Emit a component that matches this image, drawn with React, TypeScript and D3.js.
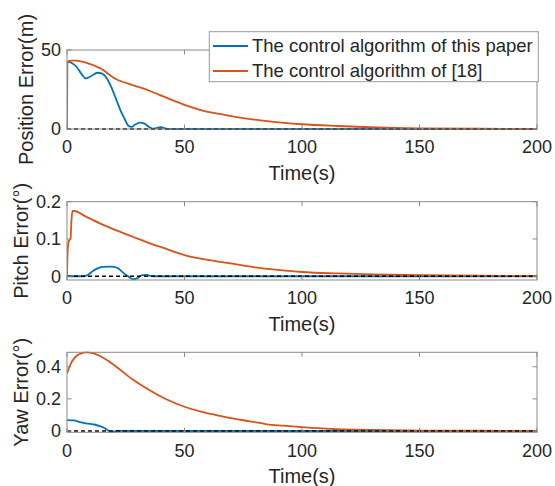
import React from "react";
import * as d3 from "d3";

// Time axis shared by the three panels
const timeDomain: [number, number] = [0, 200];
const timeTicks = [0, 50, 100, 150, 200];

// Position error (m)
const posTimeOurs = [0, 2, 4, 6, 8, 10, 13, 15, 17, 19, 21, 23, 24.5, 26, 27.5, 29, 31, 33, 35, 36.5, 38, 40, 42, 45, 60, 200];
const posOurs = [42.6, 41.8, 39.4, 35.2, 32, 33.2, 35.6, 35, 32, 26, 18.5, 11, 6.5, 2.2, 1.3, 2.8, 4, 3.4, 1.2, 0.2, 0.6, 1.2, 0.3, 0, 0, 0];
const posTimeRef = [0, 0.15, 2, 4, 8, 14, 21, 28, 35, 42, 50, 57, 65, 71, 80, 86, 100, 115, 129, 150, 175, 200];
const posRef = [0, 42.6, 43.3, 43.3, 42, 38.5, 31.5, 27.8, 24.2, 20, 15.3, 12, 9.5, 7.8, 5.9, 4.8, 3, 1.9, 1.1, 0.4, 0.15, 0.05];
const posTicks = [0, 50];

// Pitch error (deg)
const pitchTimeOurs = [0, 7, 9, 11, 13, 15, 18, 20, 22, 24, 26, 28, 30, 31.5, 33.3, 35, 37, 200];
const pitchOurs = [0, 0, 0.004, 0.014, 0.021, 0.025, 0.026, 0.025, 0.02, 0.009, 0, -0.008, -0.005, 0.002, 0.004, 0.002, 0, 0];
const pitchTimeRef = [0, 0.3, 0.8, 1.5, 1.9, 2.3, 3, 8, 14, 21, 28, 35, 42, 50, 60, 71, 80, 90, 100, 115, 130, 150, 175, 200];
const pitchRef = [0, 0.07, 0.095, 0.1, 0.15, 0.175, 0.175, 0.16, 0.142, 0.123, 0.106, 0.089, 0.074, 0.057, 0.044, 0.033, 0.024, 0.017, 0.0115, 0.0075, 0.005, 0.003, 0.0015, 0.001];
const pitchTicks = [0, 0.1, 0.2];

// Yaw error (deg)
const yawTimeOurs = [0, 3, 5.5, 8, 10, 12, 14, 15.5, 17, 18.2, 19.5, 21, 200];
const yawOurs = [0.068, 0.066, 0.055, 0.048, 0.044, 0.039, 0.031, 0.022, 0.008, -0.002, -0.005, 0, 0];
const yawTimeRef = [0, 2, 4, 6, 8, 11, 14, 17.5, 21, 28, 35, 42, 50, 57, 65, 71, 78, 85, 92, 100, 115, 130, 150, 175, 200];
const yawRef = [0.359, 0.43, 0.467, 0.483, 0.49, 0.485, 0.467, 0.437, 0.4, 0.32, 0.255, 0.199, 0.151, 0.12, 0.094, 0.077, 0.06, 0.042, 0.033, 0.024, 0.011, 0.0065, 0.003, 0.0015, 0.001];
const yawTicks = [0, 0.2, 0.4];

const legendLabels = ["The control algorithm of this paper", "The control algorithm of [18]"];
const seriesColors = ["#0072BD", "#D95319"];

const FONT = "'Liberation Sans', Arial, Helvetica, sans-serif";
const TEXT = "#262626";
const AXIS = "#8a8a8a";

const LEFT = 67;
const RIGHT = 537;

type PanelDef = {
  id: string;
  top: number;
  bottom: number;
  domain: [number, number];
  ticks: number[];
  yLabel: string;
  yLabelX: number;
  ours: [number[], number[]];
  ref: [number[], number[]];
};

const panels: PanelDef[] = [
  { id: "pos", top: 50, bottom: 129, domain: [0, 50], ticks: posTicks, yLabel: "Position Error(m)", yLabelX: 33, ours: [posTimeOurs, posOurs], ref: [posTimeRef, posRef] },
  { id: "pitch", top: 201.7, bottom: 280, domain: [-0.01, 0.2], ticks: pitchTicks, yLabel: "Pitch Error(°)", yLabelX: 28, ours: [pitchTimeOurs, pitchOurs], ref: [pitchTimeRef, pitchRef] },
  { id: "yaw", top: 352.3, bottom: 432.3, domain: [-0.008, 0.49], ticks: yawTicks, yLabel: "Yaw Error(°)", yLabelX: 28, ours: [yawTimeOurs, yawOurs], ref: [yawTimeRef, yawRef] },
];

function Panel({ p }: { p: PanelDef }) {
  const x = d3.scaleLinear().domain(timeDomain).range([LEFT, RIGHT]);
  const y = d3.scaleLinear().domain(p.domain).range([p.bottom, p.top]);
  const line = d3
    .line<[number, number]>()
    .x((d) => x(d[0]))
    .y((d) => y(d[1]))
    .curve(d3.curveMonotoneX);
  const zip = (ts: number[], vs: number[]) => ts.map((t, i) => [t, vs[i]] as [number, number]);
  const tickLen = 4.5;
  const fmt = (v: number) => String(v);
  return (
    <g>
      <defs>
        <clipPath id={`clip-${p.id}`}>
          <rect x={LEFT} y={p.top - 1} width={RIGHT - LEFT} height={p.bottom - p.top + 2} />
        </clipPath>
      </defs>
      <rect x={LEFT} y={p.top} width={RIGHT - LEFT} height={p.bottom - p.top} fill="#fff" />
      <g clipPath={`url(#clip-${p.id})`}>
        <path d={line(zip(p.ours[0], p.ours[1])) || ""} fill="none" stroke={seriesColors[0]} strokeWidth={1.8} />
        <path d={line(zip(p.ref[0], p.ref[1])) || ""} fill="none" stroke={seriesColors[1]} strokeWidth={1.8} />
        <line x1={x(0)} x2={x(200)} y1={y(0)} y2={y(0)} stroke="#000" strokeWidth={1.3} strokeDasharray="4,3" />
      </g>
      {/* box */}
      <rect x={LEFT} y={p.top} width={RIGHT - LEFT} height={p.bottom - p.top} fill="none" stroke={AXIS} strokeWidth={1} />
      {/* x ticks */}
      {timeTicks.map((t) => (
        <g key={`xt${t}`}>
          <line x1={x(t)} x2={x(t)} y1={p.bottom} y2={p.bottom - tickLen} stroke={AXIS} />
          <line x1={x(t)} x2={x(t)} y1={p.top} y2={p.top + tickLen} stroke={AXIS} />
          <text x={x(t)} y={p.bottom + 24.3} textAnchor="middle" fontSize={18} fill={TEXT} fontFamily={FONT}>
            {t}
          </text>
        </g>
      ))}
      {/* y ticks */}
      {p.ticks.map((v) => (
        <g key={`yt${v}`}>
          <line x1={LEFT} x2={LEFT + tickLen} y1={y(v)} y2={y(v)} stroke={AXIS} />
          <line x1={RIGHT} x2={RIGHT - tickLen} y1={y(v)} y2={y(v)} stroke={AXIS} />
          <text x={61} y={y(v) + 6.4} textAnchor="end" fontSize={18} fill={TEXT} fontFamily={FONT}>
            {fmt(v)}
          </text>
        </g>
      ))}
      <text x={(LEFT + RIGHT) / 2} y={p.bottom + 50.5} textAnchor="middle" fontSize={20} fill={TEXT} fontFamily={FONT}>
        Time(s)
      </text>
      <text
        transform={`translate(${p.yLabelX},${(p.top + p.bottom) / 2}) rotate(-90)`}
        textAnchor="middle"
        fontSize={20}
        fill={TEXT}
        fontFamily={FONT}
      >
        {p.yLabel}
      </text>
    </g>
  );
}

function Legend() {
  const lx = 209.3;
  const ly = 31.7;
  const rows = [46, 71];
  return (
    <g>
      <rect x={lx} y={ly} width={538.3 - lx} height={81.7 - ly} fill="#fff" stroke="#9a9a9a" strokeWidth={1} />
      {legendLabels.map((label, i) => (
        <g key={label}>
          <line x1={213} x2={248} y1={rows[i]} y2={rows[i]} stroke={seriesColors[i]} strokeWidth={1.8} />
          <text x={252} y={rows[i] + 5.5} fontSize={18.5} fill={TEXT} fontFamily={FONT}>
            {label}
          </text>
        </g>
      ))}
    </g>
  );
}

export default function App() {
  return (
    <svg
      width={555}
      height={486}
      viewBox="0 0 555 486"
      style={{ position: "absolute", left: 0, top: 0, background: "#fff" }}
    >
      <rect width={555} height={486} fill="#fff" />
      {panels.map((p) => (
        <Panel key={p.id} p={p} />
      ))}
      <Legend />
    </svg>
  );
}
